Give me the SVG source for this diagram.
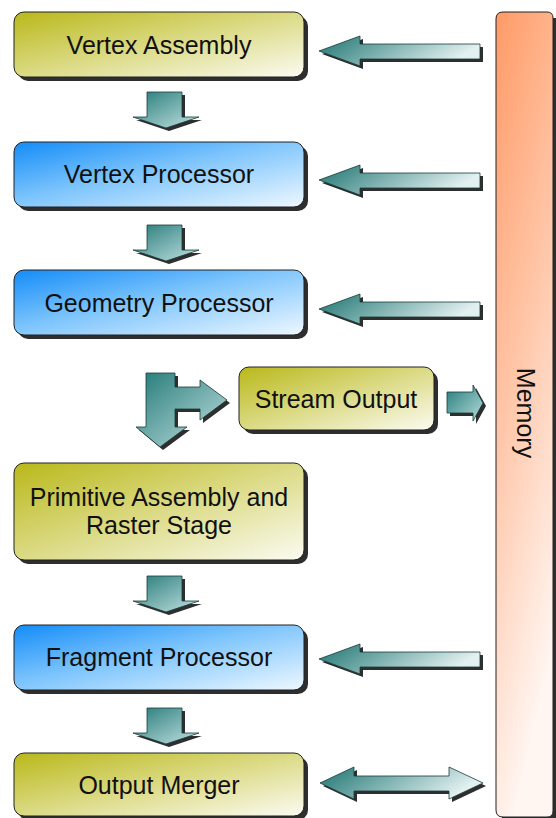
<svg xmlns="http://www.w3.org/2000/svg" xmlns:xlink="http://www.w3.org/1999/xlink" width="556" height="818" viewBox="0 0 556 818">
<style>
.lbl{font-family:"Liberation Sans",Arial,sans-serif;font-size:25px;fill:#111;text-anchor:middle;dominant-baseline:central}
.box{stroke:#222;stroke-width:1}
.sh{fill:#2e2e2e}
.olive{fill:url(#gOlive)}
.blue{fill:url(#gBlue)}
.arr{fill:url(#gArrL);stroke:#1a3a3a;stroke-width:0.8}
.arrD{fill:url(#gArrD);stroke:#1a3a3a;stroke-width:0.8}
.arrR{fill:url(#gArrR);stroke:#1a3a3a;stroke-width:0.8}
</style>
<defs>
<linearGradient id="gOlive" x1="0" y1="0" x2="1" y2="1">
<stop offset="0" stop-color="#b9b81a"/>
<stop offset="0.45" stop-color="#d8d77a"/>
<stop offset="1" stop-color="#fbfbf2"/>
</linearGradient>
<linearGradient id="gBlue" x1="0" y1="0" x2="1" y2="1">
<stop offset="0" stop-color="#148cf8"/>
<stop offset="0.45" stop-color="#7cc4fc"/>
<stop offset="1" stop-color="#eef8ff"/>
</linearGradient>
<linearGradient id="gMem" x1="0" y1="0" x2="0.3" y2="1">
<stop offset="0" stop-color="#ff9a66"/>
<stop offset="0.5" stop-color="#ffc6a8"/>
<stop offset="1" stop-color="#fff5f1"/>
</linearGradient>
<linearGradient id="gArrL" x1="0" y1="0" x2="1" y2="0.3">
<stop offset="0" stop-color="#1b7370"/>
<stop offset="1" stop-color="#e2f0f0"/>
</linearGradient>
<linearGradient id="gArrR" x1="0" y1="0" x2="1" y2="1">
<stop offset="0" stop-color="#237c7a"/>
<stop offset="1" stop-color="#b8dcdc"/>
</linearGradient>
<linearGradient id="gArrD" x1="0" y1="0" x2="1" y2="1">
<stop offset="0" stop-color="#237a78"/>
<stop offset="1" stop-color="#c4e2e2"/>
</linearGradient>
<path id="leftArrow" d="M319,0 L360,-15 L360,-7 L480,-7 L480,8 L360,8 L360,15 Z"/>
<path id="downArrow" d="M147,0 L182,0 L182,25 L199,25 L166,36 L133,25 L147,25 Z"/>
</defs>

<g id="memory">
<path class="sh" d="M502,18 h57 v805 h-57 z"/>
<path class="box" fill="url(#gMem)" d="M503,12 L547,12 Q553,12 553,18 L553,811 Q553,817 547,817 L503,817 Q496,817 496,810 L496,19 Q496,12 503,12 Z"/>
<text class="lbl" transform="translate(526,413) rotate(90)">Memory</text>
</g>

<g id="vertex-assembly">
<rect class="sh" x="18" y="16" width="290" height="65" rx="10"/>
<rect class="box olive" x="14" y="12" width="290" height="65" rx="10"/>
<text class="lbl" x="159" y="45">Vertex Assembly</text>
</g>

<g id="vertex-processor">
<rect class="sh" x="18" y="146" width="290" height="65" rx="10"/>
<rect class="box blue" x="14" y="142" width="290" height="65" rx="10"/>
<text class="lbl" x="159" y="174">Vertex Processor</text>
</g>

<g id="geometry-processor">
<rect class="sh" x="18" y="274" width="290" height="65" rx="10"/>
<rect class="box blue" x="14" y="270" width="290" height="65" rx="10"/>
<text class="lbl" x="159" y="303">Geometry Processor</text>
</g>

<g id="stream-output">
<rect class="sh" x="243" y="371" width="195" height="63" rx="10"/>
<rect class="box olive" x="239" y="367" width="195" height="63" rx="10"/>
<text class="lbl" x="336" y="399">Stream Output</text>
</g>

<g id="primitive-assembly">
<rect class="sh" x="18" y="467" width="290" height="97" rx="10"/>
<rect class="box olive" x="14" y="463" width="290" height="97" rx="10"/>
<text class="lbl" x="159" y="497">Primitive Assembly and</text>
<text class="lbl" x="159" y="525">Raster Stage</text>
</g>

<g id="fragment-processor">
<rect class="sh" x="18" y="629" width="290" height="65" rx="10"/>
<rect class="box blue" x="14" y="625" width="290" height="65" rx="10"/>
<text class="lbl" x="159" y="657">Fragment Processor</text>
</g>

<g id="output-merger">
<rect class="sh" x="18" y="757" width="290" height="63" rx="10"/>
<rect class="box olive" x="14" y="753" width="290" height="63" rx="10"/>
<text class="lbl" x="159" y="785">Output Merger</text>
</g>

<g id="connectors">
<use xlink:href="#leftArrow" class="sh" transform="translate(3,54)"/>
<use xlink:href="#leftArrow" class="arr" transform="translate(0,51)"/>
<use xlink:href="#leftArrow" class="sh" transform="translate(3,183)"/>
<use xlink:href="#leftArrow" class="arr" transform="translate(0,180)"/>
<use xlink:href="#leftArrow" class="sh" transform="translate(3,312)"/>
<use xlink:href="#leftArrow" class="arr" transform="translate(0,309)"/>
<use xlink:href="#leftArrow" class="sh" transform="translate(3,662)"/>
<use xlink:href="#leftArrow" class="arr" transform="translate(0,659)"/>
<path class="sh" d="M323,786 L357,770 L357,779 L452,779 L452,770 L486,786 L452,802 L452,794 L357,794 L357,802 Z"/>
<path class="arr" d="M320,783 L354,767 L354,776 L449,776 L449,767 L483,783 L449,799 L449,791 L354,791 L354,799 Z"/>
<use xlink:href="#downArrow" class="sh" transform="translate(3,95)"/>
<use xlink:href="#downArrow" class="arrD" transform="translate(0,92)"/>
<use xlink:href="#downArrow" class="sh" transform="translate(3,228)"/>
<use xlink:href="#downArrow" class="arrD" transform="translate(0,225)"/>
<use xlink:href="#downArrow" class="sh" transform="translate(3,579)"/>
<use xlink:href="#downArrow" class="arrD" transform="translate(0,576)"/>
<use xlink:href="#downArrow" class="sh" transform="translate(3,711)"/>
<use xlink:href="#downArrow" class="arrD" transform="translate(0,708)"/>
<path class="sh" d="M149,376 L178,376 L178,390 L203,390 L203,383 L230,403 L203,423 L203,412 L178,412 L178,430 L190,430 L163,450 L139,430 L149,430 Z"/>
<path class="arrD" d="M146,373 L175,373 L175,387 L200,387 L200,380 L227,400 L200,420 L200,409 L175,409 L175,427 L187,427 L160,447 L136,427 L146,427 Z"/>
<path class="sh" d="M450,395 L476,395 L476,388 L486,406 L476,424 L476,416 L450,416 Z"/>
<path class="arrR" d="M447,392 L473,392 L473,385 L483,403 L473,421 L473,413 L447,413 Z"/>
</g>
</svg>
